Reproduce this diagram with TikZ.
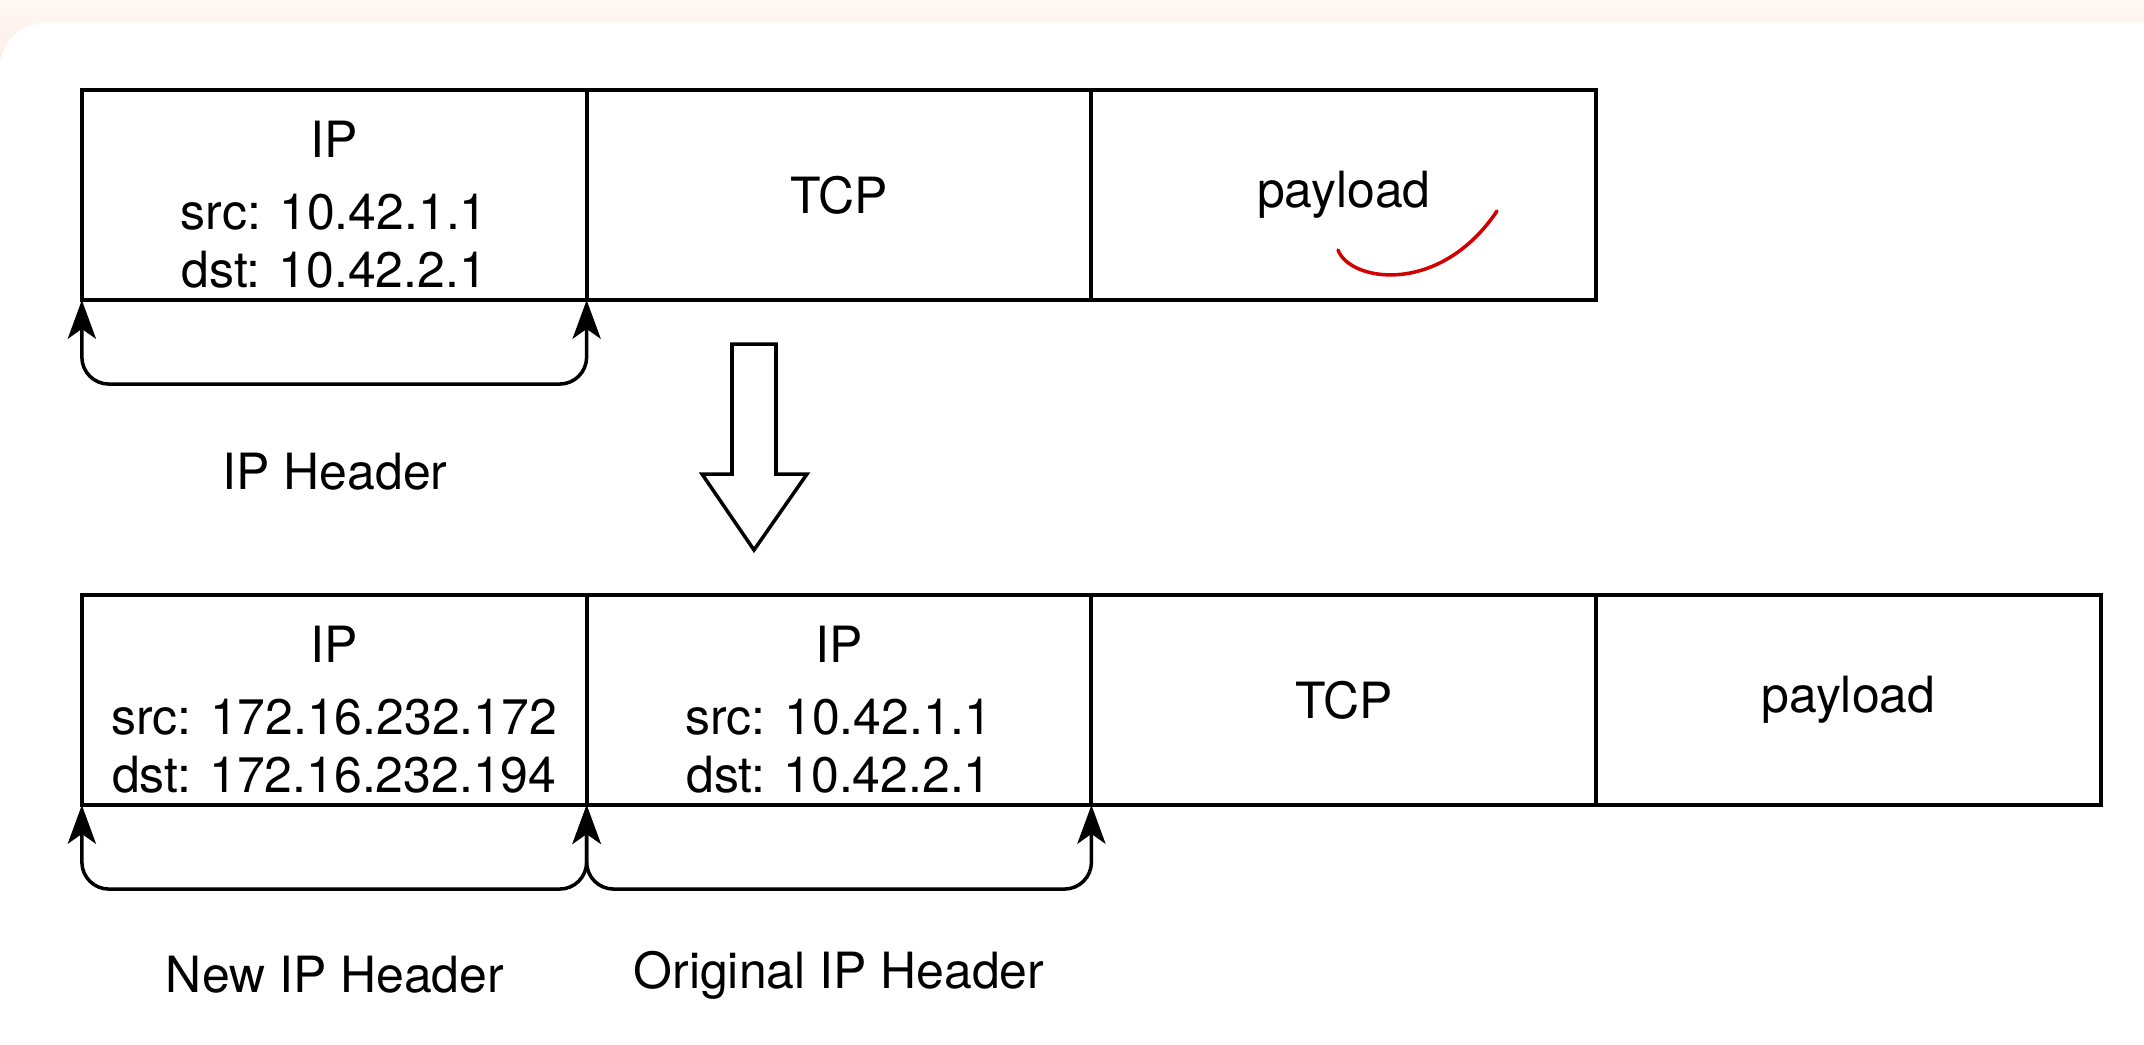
\documentclass[tikz,border=0pt]{standalone}
\usepackage{fontspec}
\setmainfont{TeX Gyre Heros}
\usepackage{tikz}
\usetikzlibrary{positioning,arrows.meta}
\definecolor{peachtop}{HTML}{FEF8F5}
\definecolor{peachbot}{HTML}{FDEEE6}
\definecolor{ink}{HTML}{000000}
\definecolor{scrib}{HTML}{D30000}
\newcommand{\pktfont}{\fontsize{14.2}{16.5}\selectfont}
\tikzset{
  cell/.style={draw=ink, line width=1.15pt, minimum width=5.045cm, minimum height=2.1cm,
    inner sep=0pt, outer sep=0pt, font=\pktfont},
  hdr/.style={font=\pktfont, align=center, inner sep=0pt},
  lab/.style={font=\pktfont, inner sep=0pt},
  brace/.style={draw=ink, line width=1pt, rounded corners=0.27cm,
    {Stealth[length=11pt, width=8pt, inset=2.8pt]}-{Stealth[length=11pt, width=8pt, inset=2.8pt]}},
  blockarrow/.style={draw=ink, line width=1pt, fill=white, line join=miter},
  scribble/.style={draw=scrib, line width=1pt, line cap=round},
}

\begin{document}
\begin{tikzpicture}[x=0.01cm, y=-0.01cm]
  \useasboundingbox (0,0) rectangle (2144,1044);
  % background card
  \shade[top color=peachtop, bottom color=peachbot] (0,0) rectangle (2144,60);
  \fill[white, rounded corners=0.45cm] (0,1100) -- (0,23) -- (2200,23) -- (2200,1100) -- cycle;

  % original packet
  \node[cell] (ip1) at (334.25,195) {};
  \node[cell, right=0pt of ip1] (tcp1) {TCP};
  \node[cell, right=0pt of tcp1] (pay1) {payload};
  \node[hdr, below=0.3cm of ip1.north] (ip1t) {IP\\[4.2pt]src: 10.42.1.1\\dst: 10.42.2.1};

  \draw[brace] (ip1.south west) -- ++(0,84) -| (ip1.south east);
  \node[lab] (hdr1) at (335,472) {IP Header};

  \draw[scribble] (1338,250) .. controls (1350,282) and (1440,296) .. (1497,211);

  % encapsulation
  \draw[blockarrow] (732,344) -- (776,344) -- (776,474) -- (807,474) -- (754,550)
    -- (702,474) -- (732,474) -- cycle;

  % tunnelled packet
  \node[cell] (ip2) at (334.25,700) {};
  \node[cell, right=0pt of ip2] (oip2) {};
  \node[cell, right=0pt of oip2] (tcp2) {TCP};
  \node[cell, right=0pt of tcp2] (pay2) {payload};
  \node[hdr, below=0.3cm of ip2.north] (ip2t) {IP\\[4.2pt]src: 172.16.232.172\\dst: 172.16.232.194};
  \node[hdr, below=0.3cm of oip2.north] (oip2t) {IP\\[4.2pt]src: 10.42.1.1\\dst: 10.42.2.1};

  \draw[brace] (ip2.south west) -- ++(0,84) -| (ip2.south east);
  \draw[brace] (oip2.south west) -- ++(0,84) -| (oip2.south east);
  \node[lab] (hdr2) at (335,975) {New IP Header};
  \node[lab] (hdr3) at (839,975) {Original IP Header};
\end{tikzpicture}
\end{document}
